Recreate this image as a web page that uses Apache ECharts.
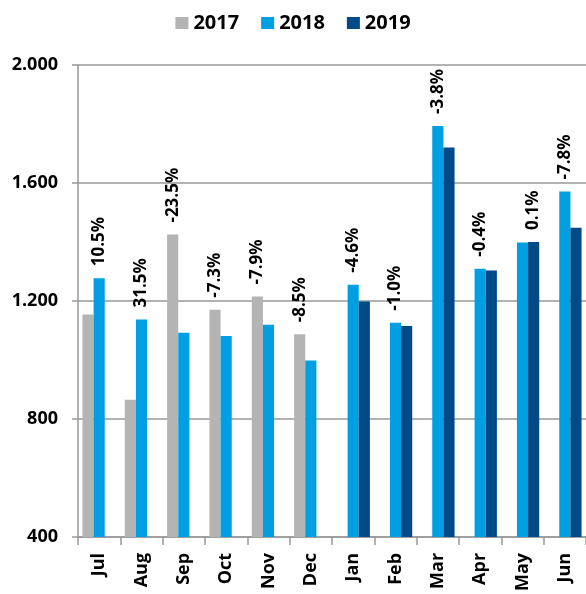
<!DOCTYPE html>
<html>
<head>
<meta charset="utf-8">
<script src="https://cdn.jsdelivr.net/npm/echarts@6/dist/echarts.min.js"></script>
<style>
  html, body { margin: 0; padding: 0; background: #fff; }
  #chart { width: 586px; height: 594px; }
</style>
</head>
<body>
<div id="chart"></div>
<script>
const months = ['Jul', 'Aug', 'Sep', 'Oct', 'Nov', 'Dec', 'Jan', 'Feb', 'Mar', 'Apr', 'May', 'Jun']
const y2017 = [1154, 865, 1425, 1170, 1215, 1087, null, null, null, null, null, null]
const y2018 = [1277, 1137, 1092, 1081, 1119, 998, 1255, 1126, 1793, 1309, 1398, 1571]
const y2019 = [null, null, null, null, null, null, 1198, 1115, 1720, 1303, 1400, 1448]
const changes = ['10.5%', '31.5%', '-23.5%', '-7.3%', '-7.9%', '-8.5%', '-4.6%', '-1.0%', '-3.8%', '-0.4%', '0.1%', '-7.8%']
const yTicks = [400, 800, 1200, 1600, 2000]

const font = '"Open Sans", "DejaVu Sans", sans-serif'

// the change label sits over the taller bar of the pair
const tallerIs = (i) => {
  const a = y2017[i] != null ? y2017[i] : y2019[i]
  return a > y2018[i] ? 'other' : '2018'
}

const pctLabel = (who) => ({
  show: true,
  position: 'top',
  rotate: 90,
  align: 'left',
  verticalAlign: 'middle',
  distance: 12,
  color: '#000',
  fontFamily: font,
  fontWeight: 'bold',
  fontSize: 17,
  formatter: (p) => tallerIs(p.dataIndex) === who ? changes[p.dataIndex] : ''
})

const chart = echarts.init(document.getElementById('chart'))

chart.setOption({
  animation: false,
  legend: {
    top: 8,
    left: 'center',
    icon: 'rect',
    itemWidth: 13,
    itemHeight: 12,
    itemGap: 22,
    textStyle: { fontFamily: font, fontWeight: 'bold', fontSize: 20, color: '#000' }
  },
  grid: { left: 78, right: -4, top: 65, bottom: 54 },
  xAxis: {
    type: 'category',
    data: months,
    axisLine: { lineStyle: { color: '#999', width: 1.5 } },
    axisTick: { show: true, length: 8, lineStyle: { color: '#999', width: 1.5 } },
    axisLabel: {
      rotate: 90,
      margin: 16,
      color: '#000',
      fontFamily: font,
      fontWeight: 'bold',
      fontSize: 18
    }
  },
  yAxis: {
    type: 'value',
    min: yTicks[0],
    max: yTicks[yTicks.length - 1],
    interval: 400,
    axisLine: { show: true, lineStyle: { color: '#999', width: 1.5 } },
    axisTick: { show: true, length: 6, lineStyle: { color: '#999', width: 1.5 } },
    splitLine: { lineStyle: { color: '#999', width: 1.5 } },
    axisLabel: {
      margin: 20,
      color: '#000',
      fontFamily: font,
      fontWeight: 'bold',
      fontSize: 18,
      formatter: (v) => String(v).replace(/\B(?=(\d{3})+(?!\d))/g, '.')
    }
  },
  series: [
    {
      name: '2017',
      type: 'bar',
      data: y2017,
      barGap: '0%',
      barCategoryGap: '21%',
      itemStyle: { color: '#b4b4b4' },
      label: pctLabel('other')
    },
    {
      name: '2018',
      type: 'bar',
      data: y2018,
      itemStyle: { color: '#009fe3' },
      label: pctLabel('2018')
    },
    {
      name: '2019',
      type: 'bar',
      data: y2019,
      itemStyle: { color: '#004a87' },
      label: pctLabel('other')
    }
  ]
})
</script>
</body>
</html>
